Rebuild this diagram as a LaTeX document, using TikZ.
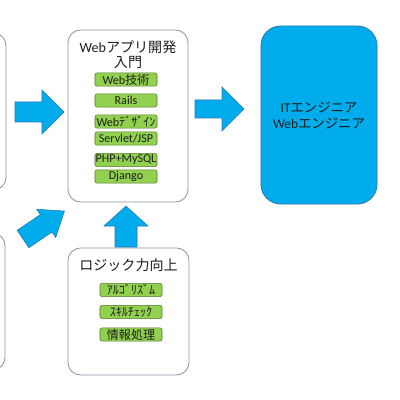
\documentclass[tikz,border=0pt]{standalone}
\usepackage{fontspec}
\setmainfont{Carlito}
\newfontfamily\jp{Noto Sans CJK JP}
\usetikzlibrary{positioning}
\definecolor{clrBlue}{RGB}{0,172,236}
\definecolor{clrBlueEdge}{RGB}{40,122,180}
\definecolor{clrGreen}{RGB}{146,208,80}
\definecolor{clrGreenEdge}{RGB}{84,124,44}
\definecolor{clrGrey}{RGB}{140,148,160}
\definecolor{clrText}{RGB}{30,30,30}
\tikzset{
  course/.style={rectangle,rounded corners=9pt,draw=clrGrey,fill=white,
    line width=0.6pt,inner sep=0pt},
  goal/.style={rectangle,rounded corners=14pt,draw=clrBlueEdge,fill=clrBlue,
    line width=0.6pt,inner sep=0pt,align=center,text=clrText,
    font=\fontsize{9.5}{11.4}\selectfont},
  skill/.style={rectangle,rounded corners=1.5pt,draw=clrGreenEdge,
    fill=clrGreen,minimum width=1.55cm,minimum height=0.33cm,inner sep=0pt,
    font=\fontsize{8.6}{9}\selectfont,text=clrText},
  coursetitle/.style={font=\fontsize{10}{10.7}\selectfont,text=clrText,
    align=center,inner sep=0pt},
  pics/blkarrow/.style n args={4}{code={
    \filldraw[draw=clrBlueEdge,fill=clrBlue,line width=0.4pt]
      (0,-#2) -- (#1-#4,-#2) -- (#1-#4,-#3) -- (#1,0) -- (#1-#4,#3)
      -- (#1-#4,#2) -- (0,#2) -- cycle;
  }}
}
\begin{document}
\begin{tikzpicture}[x=0.025cm,y=-0.025cm]
  \clip (0,0) rectangle (400,400);
  \fill[white] (0,0) rectangle (400,400);

  % courses cut off at the left edge
  \node[course,minimum width=2.9cm,minimum height=3.925cm] (prevtop) at (-52,111.5) {};
  \node[course,minimum width=2.9cm,minimum height=3.425cm] (prevbot) at (-53,301.5) {};

  % web application course
  \node[course,minimum width=3cm,minimum height=4.3cm] (webapp) at (128,116) {};
  \node[coursetitle] (webapp-title) at (128,54.5) {Web{\jp アプリ開発}\\{\jp 入門}};
  \node[skill] (web-tech) at (126,79.5) {Web{\jp 技術}};
  \node[skill] (rails) at (126,100.5) {Rails};
  \node[skill] (web-design) at (126,121.5) {Web{\jp ﾃﾞｻﾞｲﾝ}};
  \node[skill] (servlet) at (126,138.5) {Servlet/JSP};
  \node[skill] (php) at (126,160) {PHP+MySQL};
  \node[skill] (django) at (126,176.5) {Django};

  % logic course
  \node[course,minimum width=3.025cm,minimum height=3.175cm] (logic) at (128.5,311.5) {};
  \node[coursetitle] (logic-title) at (128.5,265) {{\jp ロジック力向上}};
  \node[skill] (algo) at (131,290) {{\jp ｱﾙｺﾞﾘｽﾞﾑ}};
  \node[skill] (skillcheck) at (131,312) {{\jp ｽｷﾙﾁｪｯｸ}};
  \node[skill] (infoproc) at (131,334.5) {{\jp 情報処理}};

  % goal
  \node[goal,minimum width=2.9cm,minimum height=4.45cm] (engineer) at (319,115)
    {IT{\jp エンジニア}\\Web{\jp エンジニア}};

  % block arrows
  \pic at (15,112) {blkarrow={49}{10}{22}{22}};
  \pic[rotate=34] at (23,239) {blkarrow={50}{10.5}{17}{22}};
  \pic at (195,109) {blkarrow={49}{9}{22}{22}};
  \pic[rotate=90] at (126,247) {blkarrow={41}{11}{22}{20}};
\end{tikzpicture}
\end{document}
